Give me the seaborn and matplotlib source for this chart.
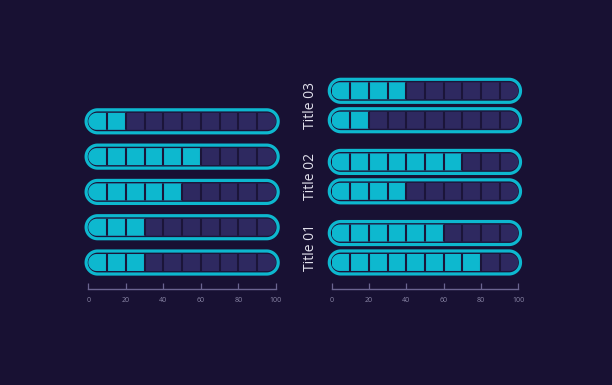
import numpy as np
import pandas as pd
import matplotlib
matplotlib.use("Agg")
import matplotlib.pyplot as plt
from matplotlib.path import Path
from matplotlib.patches import PathPatch
import seaborn as sns

# ---------------- data ----------------
left_rows = ["r1", "r2", "r3", "r4", "r5"]
left_values = [20, 60, 50, 30, 30]
right_titles = ["Title 03", "Title 02", "Title 01"]
right_top_values = [40, 70, 60]
right_bottom_values = [20, 40, 80]
scale_max = 100
segments = 10
x_ticks = [0, 20, 40, 60, 80, 100]

# ---------------- style ----------------
BG = "#181133"
CYAN = "#0db8cf"
DARK = "#2e2960"
GAP = "#1b1539"
AXIS = "#6a6490"
TICKLBL = "#8a86a6"
TITLE = "#e2e1ec"

sns.set_theme(style="white")
plt.rcParams['font.family'] = ['Open Sans', 'DejaVu Sans']

W, H = 612, 385
fig = plt.figure(figsize=(W / 100, H / 100), dpi=100)
fig.patch.set_facecolor(BG)


def axes_px(x0, y0, x1, y1):
    return fig.add_axes([x0 / W, 1 - y1 / H, (x1 - x0) / W, (y1 - y0) / H])


axl = axes_px(82.7, 60, 281.6, 289)
axr = axes_px(325.9, 60, 523.9, 289)

df_l = pd.DataFrame({"row": left_rows, "value": left_values,
                     "full": [scale_max] * len(left_rows)})
df_r = pd.DataFrame({
    "title": right_titles * 2,
    "row": ["top"] * len(right_titles) + ["bottom"] * len(right_titles),
    "value": right_top_values + right_bottom_values,
    "full": [scale_max] * (2 * len(right_titles)),
})

common = dict(errorbar=None, saturation=1, orient="h")
sns.barplot(data=df_l, x="full", y="row", order=left_rows, color=DARK,
            width=0.8, ax=axl, **common)
sns.barplot(data=df_l, x="value", y="row", order=left_rows, color=CYAN,
            width=0.8, ax=axl, **common)
sns.barplot(data=df_r, x="full", y="title", hue="row", order=right_titles,
            hue_order=["top", "bottom"], palette=[DARK, DARK], dodge=True,
            width=0.827, legend=False, ax=axr, **common)
sns.barplot(data=df_r, x="value", y="title", hue="row", order=right_titles,
            hue_order=["top", "bottom"], palette=[CYAN, CYAN], dodge=True,
            width=0.827, legend=False, ax=axr, **common)

axl.set_xlim(-3, 103)
axl.set_ylim(4.75, -1.737)
axr.set_xlim(-3, 103)
axr.set_ylim(2.58, -0.64)


def stadium(ax, x0, x1, yc, half_px, ext_px, n=48):
    T = ax.transData
    p0 = T.transform((x0, yc))
    p1 = T.transform((x1, yc))
    r = half_px
    lc = p0[0] - ext_px + r
    rc = p1[0] + ext_px - r
    cy = p0[1]
    t1 = np.linspace(-np.pi / 2, np.pi / 2, n)
    right = np.column_stack([rc + r * np.cos(t1), cy + r * np.sin(t1)])
    t2 = np.linspace(np.pi / 2, 3 * np.pi / 2, n)
    left = np.column_stack([lc + r * np.cos(t2), cy + r * np.sin(t2)])
    verts = np.vstack([right, left, right[:1]])
    data = T.inverted().transform(verts)
    codes = [Path.MOVETO] + [Path.LINETO] * (len(verts) - 2) + [Path.CLOSEPOLY]
    return Path(data, codes)


div_x = [scale_max * i / segments for i in range(1, segments)]

for ax in (axl, axr):
    ax.set_facecolor(BG)
    ax.set_xlabel("")
    ax.set_ylabel("")
    bars = list(ax.patches)
    sy = abs(ax.transData.transform((0, 1))[1] - ax.transData.transform((0, 0))[1])
    centers = sorted({round(b.get_y() + b.get_height() / 2, 4) for b in bars})
    clips = {}
    for yc in centers:
        fill = stadium(ax, 0, scale_max, yc, 8.5, 0)
        clips[yc] = fill
        outline = stadium(ax, 0, scale_max, yc, 11.5, 2.2)
        ax.add_patch(PathPatch(outline, facecolor=GAP, edgecolor=CYAN,
                               lw=2.3, zorder=0.5))
        hh = 10 / sy
        vl = ax.vlines(div_x, yc - hh, yc + hh, colors=GAP, lw=1.5, zorder=4)
        vl.set_clip_path(fill, ax.transData)
    for b in bars:
        yc = round(b.get_y() + b.get_height() / 2, 4)
        b.set_clip_path(clips[yc], ax.transData)
        b.set_edgecolor("none")
    for s in ("left", "right", "top"):
        ax.spines[s].set_visible(False)
    ax.spines["bottom"].set_visible(True)
    ax.spines["bottom"].set_color(AXIS)
    ax.spines["bottom"].set_linewidth(1.0)
    ax.spines["bottom"].set_bounds(0, scale_max)
    ax.set_xticks(x_ticks)
    ax.set_xticklabels([str(t) for t in x_ticks])
    ax.tick_params(axis="x", bottom=True, direction="in", length=4, width=0.9,
                   color=AXIS, labelsize=5, labelcolor=TICKLBL, pad=5.5)

axl.set_yticks([])
axr.tick_params(axis="y", left=False, length=0, pad=5.5, labelsize=10,
                labelcolor=TITLE)
for lbl in axr.get_yticklabels():
    lbl.set_rotation(90)
    lbl.set_va("center")

fig.savefig("out.png", dpi=100, facecolor=BG)
